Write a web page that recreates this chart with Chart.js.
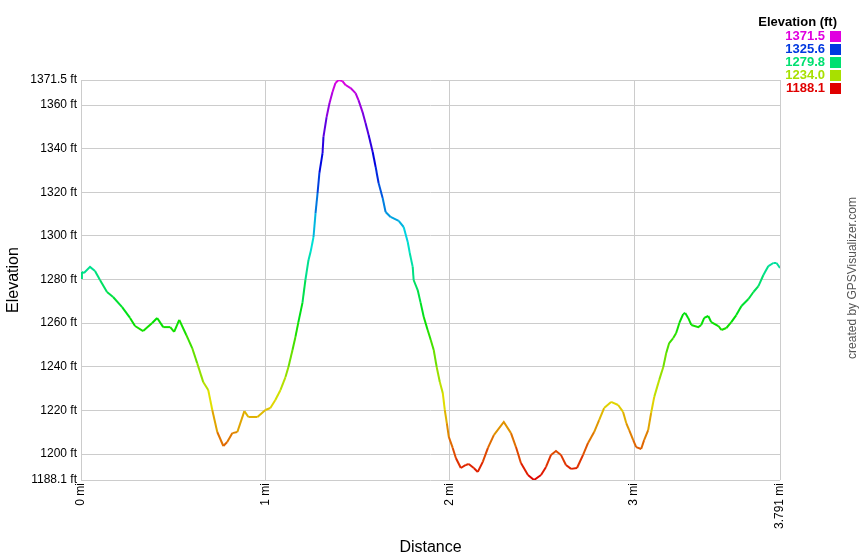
<!DOCTYPE html>
<html>
<head>
<meta charset="utf-8">
<title>Elevation profile</title>
<script src="https://cdn.jsdelivr.net/npm/chart.js@4.4.1/dist/chart.umd.min.js"></script>
<style>
  html, body { margin: 0; padding: 0; background: #fff; }
  canvas { display: block; }
</style>
</head>
<body>
<canvas id="chart" width="860" height="560"></canvas>
<script>
// Track profile
const distanceMi = [
  0.000, 0.005, 0.016, 0.049, 0.076, 0.103, 0.141, 0.174, 0.223, 0.266,
  0.293, 0.337, 0.386, 0.413, 0.446, 0.484, 0.505, 0.533, 0.571, 0.603,
  0.630, 0.663, 0.690, 0.712, 0.739, 0.772, 0.793, 0.821, 0.848, 0.886,
  0.908, 0.957, 1.000, 1.027, 1.054, 1.082, 1.109, 1.125, 1.147, 1.163,
  1.179, 1.201, 1.217, 1.234, 1.245, 1.261, 1.272, 1.283, 1.293, 1.310,
  1.315, 1.332, 1.348, 1.364, 1.380, 1.397, 1.418, 1.435, 1.462, 1.489,
  1.505, 1.527, 1.543, 1.560, 1.582, 1.598, 1.614, 1.636, 1.652, 1.679,
  1.723, 1.750, 1.772, 1.783, 1.799, 1.804, 1.826, 1.842, 1.859, 1.880,
  1.897, 1.913, 1.929, 1.946, 1.962, 1.973, 1.984, 1.995, 2.016, 2.033,
  2.060, 2.087, 2.103, 2.130, 2.152, 2.179, 2.207, 2.239, 2.293, 2.332,
  2.359, 2.386, 2.424, 2.457, 2.495, 2.522, 2.549, 2.576, 2.603, 2.630,
  2.658, 2.690, 2.723, 2.750, 2.783, 2.810, 2.837, 2.875, 2.913, 2.940,
  2.957, 2.973, 2.995, 3.011, 3.038, 3.054, 3.076, 3.092, 3.109, 3.136,
  3.158, 3.174, 3.190, 3.212, 3.228, 3.245, 3.266, 3.277, 3.293, 3.310,
  3.348, 3.364, 3.380, 3.402, 3.418, 3.457, 3.473, 3.500, 3.527, 3.554,
  3.582, 3.620, 3.647, 3.674, 3.701, 3.728, 3.755, 3.772, 3.791
];
const elevationFt = [
  1280.7, 1283.5, 1283.0, 1285.8, 1283.9, 1279.8, 1274.3, 1272.0, 1267.4, 1262.4,
  1258.7, 1256.4, 1260.1, 1262.4, 1258.2, 1258.2, 1256.0, 1261.5, 1254.6, 1248.6,
  1241.7, 1233.0, 1229.4, 1220.2, 1210.1, 1203.7, 1205.5, 1209.6, 1210.1, 1219.7,
  1217.0, 1217.0, 1220.2, 1221.1, 1224.8, 1229.4, 1235.3, 1239.9, 1247.7, 1253.7,
  1260.5, 1269.3, 1279.8, 1289.0, 1292.6, 1299.5, 1310.5, 1319.7, 1328.9, 1338.0,
  1345.4, 1354.5, 1361.0, 1366.0, 1370.1, 1371.5, 1371.0, 1369.2, 1367.8, 1365.5,
  1362.3, 1356.8, 1351.8, 1346.3, 1338.5, 1331.6, 1324.3, 1317.4, 1311.0, 1308.7,
  1306.9, 1304.1, 1297.2, 1292.2, 1285.8, 1279.8, 1275.2, 1269.3, 1262.8, 1256.9,
  1252.3, 1247.7, 1239.9, 1233.0, 1228.0, 1220.2, 1214.2, 1207.8, 1202.8, 1198.2,
  1193.6, 1195.0, 1195.4, 1193.6, 1191.8, 1196.4, 1202.8, 1208.7, 1214.7, 1209.6,
  1203.2, 1195.9, 1190.4, 1188.1, 1190.4, 1194.1, 1199.6, 1201.4, 1199.6, 1195.0,
  1193.2, 1193.6, 1199.6, 1205.1, 1210.1, 1215.6, 1221.1, 1223.9, 1222.5, 1219.3,
  1214.2, 1211.0, 1206.4, 1203.2, 1202.3, 1206.4, 1211.0, 1218.8, 1226.2, 1234.0,
  1239.9, 1246.3, 1250.9, 1253.2, 1255.5, 1260.1, 1264.2, 1264.7, 1262.4, 1259.2,
  1258.2, 1259.2, 1262.4, 1263.3, 1260.5, 1258.7, 1256.9, 1257.8, 1260.5, 1263.7,
  1267.9, 1271.1, 1274.3, 1277.0, 1282.1, 1286.2, 1287.6, 1287.6, 1285.3
];
const xTicks = [0, 1, 2, 3, 3.791];
const yTicks = [1188.1, 1200, 1220, 1240, 1260, 1280, 1300, 1320, 1340, 1360, 1371.5];
const legendValues = [1371.5, 1325.6, 1279.8, 1234.0, 1188.1];

const MIN_FT = 1188.1;
const MAX_FT = 1371.5;
const FONT = "'Liberation Sans', Arial, sans-serif";

// red at the lowest point, through green and blue, to magenta at the top
const colorFor = v => {
  const t = Math.min(1, Math.max(0, (v - MIN_FT) / (MAX_FT - MIN_FT)));
  return `hsl(${Math.round(300 * t)}, 100%, 44%)`;
};

// legend box and credit line on the right
const sideText = {
  id: "sideText",
  afterDraw(chart) {
    const ctx = chart.ctx;
    ctx.save();
    ctx.textBaseline = "middle";
    ctx.textAlign = "right";
    ctx.fillStyle = "#000";
    ctx.font = `bold 13px ${FONT}`;
    ctx.fillText("Elevation (ft)", 837, 22);
    legendValues.forEach((v, i) => {
      const y = 36 + i * 13;
      ctx.fillStyle = colorFor(v);
      ctx.fillText(v.toFixed(1), 825, y);
      ctx.fillRect(830, y - 5, 11, 11);
    });

    ctx.translate(853, 278);
    ctx.rotate(-Math.PI / 2);
    ctx.textAlign = "center";
    ctx.fillStyle = "#555";
    ctx.font = `12px ${FONT}`;
    ctx.fillText("created by GPSVisualizer.com", 0, 0);
    ctx.restore();
  }
};

Chart.defaults.font.family = FONT;
Chart.defaults.color = "#000";

new Chart(document.getElementById("chart"), {
  type: "line",
  data: {
    datasets: [{
      data: distanceMi.map((d, i) => ({ x: d, y: elevationFt[i] })),
      borderWidth: 2,
      pointRadius: 0,
      tension: 0,
      segment: {
        borderColor: c => colorFor((c.p0.parsed.y + c.p1.parsed.y) / 2)
      }
    }]
  },
  options: {
    responsive: false,
    animation: false,
    layout: { padding: { top: 80, right: 80, left: 0, bottom: 0 } },
    plugins: {
      legend: { display: false },
      tooltip: { enabled: false }
    },
    scales: {
      x: {
        type: "linear",
        min: 0,
        max: 3.791,
        afterBuildTicks: s => { s.ticks = xTicks.map(v => ({ value: v })); },
        afterFit: s => { s.height = 80; },
        ticks: {
          autoSkip: false,
          minRotation: 90,
          maxRotation: 90,
          padding: 3,
          font: { size: 12 },
          callback: v => v + " mi"
        },
        grid: { color: "#cccccc", drawTicks: false },
        border: { display: false },
        title: { display: true, text: "Distance", font: { size: 16 }, padding: { top: 0, bottom: 3 } }
      },
      y: {
        min: MIN_FT,
        max: MAX_FT,
        afterBuildTicks: s => { s.ticks = yTicks.map(v => ({ value: v })); },
        afterFit: s => { s.width = 81; },
        ticks: {
          padding: 4,
          font: { size: 12 },
          callback: v => v + " ft"
        },
        grid: { color: "#cccccc", drawTicks: false },
        border: { display: false },
        title: { display: true, text: "Elevation", font: { size: 16 }, padding: { top: 4, bottom: 0 } }
      }
    }
  },
  plugins: [sideText]
});
</script>
</body>
</html>
